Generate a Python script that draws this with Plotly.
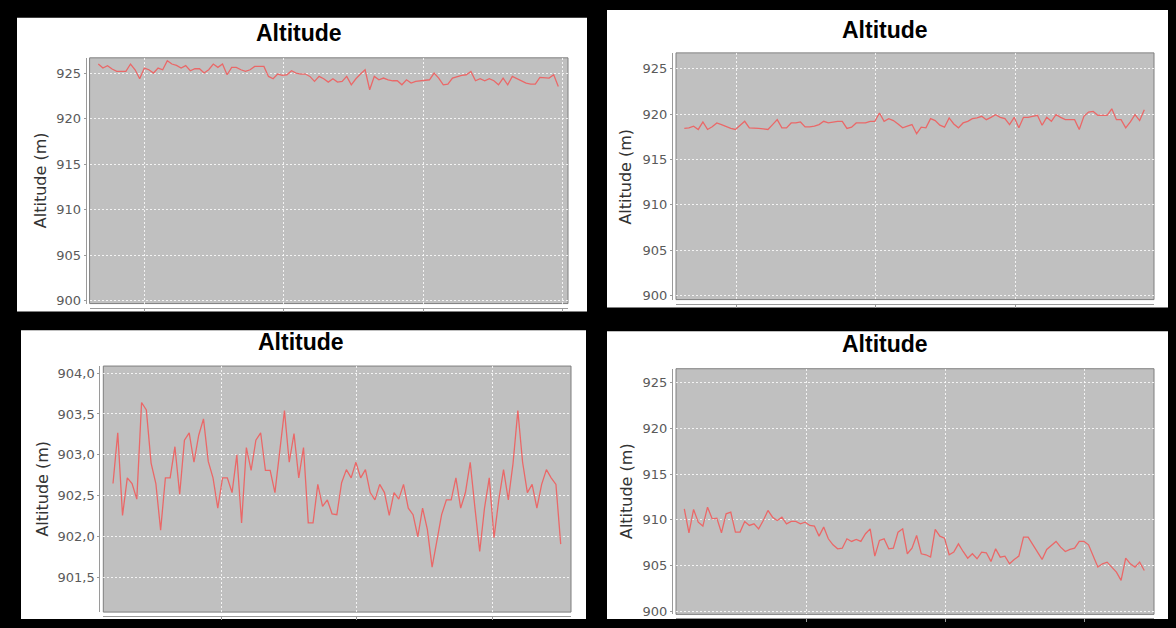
import plotly.graph_objects as go

W, H = 1176, 628

# ---------------- data (altitude samples, metres) ----------------
alt_p1 = [926.03, 925.59, 925.85, 925.48, 925.22, 925.22, 925.22, 926.03, 925.40, 924.41,
          925.59, 925.40, 925.04, 925.59, 925.40, 926.40, 926.03, 925.88, 925.59, 925.85,
          925.29, 925.51, 925.51, 925.04, 925.40, 926.03, 925.66, 926.03, 924.85, 925.66,
          925.66, 925.40, 925.22, 925.40, 925.77, 925.77, 925.77, 924.67, 924.41, 924.93,
          924.78, 924.85, 925.29, 925.04, 924.93, 924.93, 924.67, 924.12, 924.67, 924.41,
          924.04, 924.41, 924.04, 924.12, 924.67, 923.75, 924.41, 924.93, 925.40, 923.20,
          924.67, 924.30, 924.49, 924.30, 924.19, 924.19, 923.75, 924.30, 923.93, 924.12,
          924.19, 924.30, 924.30, 925.04, 924.49, 923.75, 923.82, 924.49, 924.67, 924.78,
          924.85, 925.22, 924.19, 924.41, 924.19, 924.41, 924.19, 923.75, 924.49, 923.75,
          924.67, 924.41, 924.12, 923.93, 923.82, 923.82, 924.56, 924.56, 924.49, 924.85,
          923.57]

alt_p2 = [918.41, 918.48, 918.66, 918.30, 919.13, 918.30, 918.59, 919.02, 918.84, 918.59,
          918.41, 918.30, 918.73, 919.20, 918.48, 918.48, 918.41, 918.37, 918.30, 918.84,
          919.38, 918.48, 918.48, 919.02, 919.02, 919.13, 918.59, 918.59, 918.66, 918.84,
          919.20, 919.02, 919.13, 919.20, 919.20, 918.41, 918.55, 919.02, 919.02, 919.02,
          919.20, 919.20, 920.11, 919.20, 919.49, 919.28, 918.91, 918.48, 918.66, 918.84,
          917.83, 918.55, 918.48, 919.49, 919.28, 918.77, 918.55, 919.57, 918.91, 918.48,
          919.02, 919.20, 919.49, 919.57, 919.75, 919.38, 919.64, 919.93, 919.64, 919.49,
          918.84, 919.64, 918.48, 919.64, 919.64, 919.75, 919.86, 918.77, 919.64, 919.20,
          919.93, 919.64, 919.38, 919.38, 919.38, 918.30, 919.75, 920.22, 920.29, 919.86,
          919.86, 919.86, 920.58, 919.38, 919.38, 918.48, 919.13, 919.93, 919.28, 920.47]

alt_p3 = [902.65, 903.27, 902.26, 902.72, 902.65, 902.46, 903.64, 903.55, 902.90, 902.65,
          902.08, 902.72, 902.72, 903.10, 902.52, 903.18, 903.27, 902.91, 903.24, 903.44,
          902.92, 902.72, 902.35, 902.72, 902.72, 902.54, 903.00, 902.17, 903.09, 902.81,
          903.18, 903.27, 902.81, 902.81, 902.54, 903.08, 903.54, 902.91, 903.26, 902.72,
          903.09, 902.17, 902.17, 902.64, 902.37, 902.45, 902.28, 902.27, 902.66, 902.82,
          902.72, 902.91, 902.72, 902.82, 902.54, 902.45, 902.64, 902.54, 902.26, 902.54,
          902.46, 902.64, 902.35, 902.27, 902.00, 902.35, 902.09, 901.63, 901.93, 902.27,
          902.45, 902.45, 902.72, 902.35, 902.54, 902.91, 902.35, 901.82, 902.35, 902.72,
          901.99, 902.45, 902.82, 902.45, 902.90, 903.54, 902.91, 902.54, 902.64, 902.35,
          902.64, 902.82, 902.72, 902.64, 901.91]

alt_p4 = [911.20, 908.58, 911.13, 909.74, 909.31, 911.39, 910.11, 910.18, 908.58, 910.66,
          910.84, 908.65, 908.65, 909.82, 909.38, 909.56, 909.01, 909.93, 911.02, 910.29,
          909.93, 910.29, 909.56, 909.82, 909.82, 909.56, 909.74, 909.38, 909.31, 908.21,
          909.20, 907.92, 907.26, 906.82, 906.89, 907.92, 907.63, 907.85, 907.63, 908.47,
          909.01, 906.02, 907.74, 907.92, 906.82, 906.89, 908.65, 909.01, 906.28, 906.89,
          908.28, 906.28, 906.17, 905.91, 908.94, 908.21, 907.99, 906.17, 906.46, 907.37,
          906.53, 905.80, 906.28, 905.73, 906.46, 906.39, 905.44, 906.82, 905.91, 906.02,
          905.18, 905.66, 906.02, 908.10, 908.10, 907.26, 906.53, 905.66, 906.75, 907.19,
          907.63, 907.01, 906.53, 906.75, 906.89, 907.63, 907.63, 907.26, 906.09, 904.82,
          905.18, 905.36, 904.82, 904.27, 903.36, 905.80, 905.18, 904.82, 905.36, 904.45]

ticks_m = [900, 905, 910, 915, 920, 925]
ticktext_m = ["900", "905", "910", "915", "920", "925"]
ticks_p3 = [901.5, 902.0, 902.5, 903.0, 903.5, 904.0]
ticktext_p3 = ["901,5", "902,0", "902,5", "903,0", "903,5", "904,0"]

chart_title = "Altitude"
y_label = "Altitude (m)"

# ---------------- layout geometry (pixels in the 1176x628 picture) ----------------
panels = [
    dict(data=alt_p1, tv=ticks_m, tt=ticktext_m, card=(17, 18, 587, 314),
         plot=(89.6, 58.3, 568, 306), yr=(899.71, 926.71), first=98.3, last=558.3,
         grid0=144, gstep=139.5, title=(299, 33), ylab=(40.6, 182)),
    dict(data=alt_p2, tv=ticks_m, tt=ticktext_m, card=(607, 10, 1168, 310),
         plot=(676, 53.3, 1154, 302), yr=(899.53, 926.75), first=684.3, last=1144.3,
         grid0=736, gstep=139.5, title=(885, 30), ylab=(626, 178)),
    dict(data=alt_p3, tv=ticks_p3, tt=ticktext_p3, card=(21, 333, 586, 624),
         plot=(103.3, 369, 571, 617), yr=(901.08, 904.085), first=113, last=560.7,
         grid0=221, gstep=135.5, title=(301, 345), ylab=(42.5, 493)),
    dict(data=alt_p4, tv=ticks_m, tt=ticktext_m, card=(607, 334, 1168, 624),
         plot=(676, 371.7, 1154, 619.3), yr=(899.64, 926.55), first=684.3, last=1144.3,
         grid0=806, gstep=139.2, title=(885, 347), ylab=(626, 495)),
]

LINE_COLOR = "#EA6868"
GRID_COLOR = "rgba(255,255,255,0.8)"
GRID_DASH = "2px,2px"
AXIS_COLOR = "#9a9a9a"

fig = go.Figure()
shapes = []
annotations = []
layout_axes = {}

for k, p in enumerate(panels, start=1):
    L, T, R, B = p["plot"]
    n = len(p["data"])
    idx = list(range(n))
    per = (p["last"] - p["first"]) / (n - 1)
    xr = [-(p["first"] - L) / per, (n - 1) + (R - p["last"]) / per]
    tick0 = (p["grid0"] - p["first"]) / per
    dtick = p["gstep"] / per
    xs = "" if k == 1 else str(k)

    fig.add_trace(go.Scatter(
        x=idx, y=p["data"], mode="lines",
        line=dict(color=LINE_COLOR, width=1.3),
        xaxis="x" + xs, yaxis="y" + xs, showlegend=False, hoverinfo="skip"))

    layout_axes["xaxis" + xs] = dict(
        domain=[L / W, R / W], range=xr, anchor="free", position=1 - (B + 4) / H,
        showline=True, linecolor=AXIS_COLOR, linewidth=1,
        ticks="outside", ticklen=3, tickcolor=AXIS_COLOR,
        tickmode="linear", tick0=tick0, dtick=dtick, showticklabels=False,
        showgrid=True, gridcolor=GRID_COLOR, gridwidth=1, griddash=GRID_DASH,
        zeroline=False, fixedrange=True)
    layout_axes["yaxis" + xs] = dict(
        domain=[1 - B / H, 1 - T / H], range=list(p["yr"]), anchor="free",
        position=(L - 4) / W,
        showline=True, linecolor=AXIS_COLOR, linewidth=1,
        ticks="outside", ticklen=2, tickcolor=AXIS_COLOR,
        tickvals=p["tv"], ticktext=p["tt"],
        tickfont=dict(family="DejaVu Sans", size=13, color="#5a5a5a"),
        showgrid=True, gridcolor=GRID_COLOR, gridwidth=1, griddash=GRID_DASH,
        zeroline=False, fixedrange=True)

    cx0, cy0, cx1, cy1 = p["card"]
    shapes.append(dict(type="rect", xref="paper", yref="paper", layer="below",
                       x0=cx0 / W, x1=cx1 / W, y0=1 - cy1 / H, y1=1 - cy0 / H,
                       fillcolor="white", line=dict(width=0)))
    shapes.append(dict(type="rect", xref="x" + xs + " domain", yref="y" + xs + " domain",
                       layer="below", x0=0, x1=1, y0=0, y1=1,
                       fillcolor="#C0C0C0", line=dict(color="#7f7f7f", width=1)))

    tx, ty = p["title"]
    annotations.append(dict(text=chart_title, xref="paper", yref="paper",
                            x=tx / W, y=1 - ty / H, xanchor="center", yanchor="middle",
                            showarrow=False,
                            font=dict(family="Liberation Sans", size=23, color="black",
                                      weight="bold")))
    lx, ly = p["ylab"]
    annotations.append(dict(text=y_label, xref="paper", yref="paper",
                            x=lx / W, y=1 - ly / H, xanchor="center", yanchor="middle",
                            textangle=-90, showarrow=False,
                            font=dict(family="DejaVu Sans", size=16, color="#333333")))

fig.update_layout(
    width=W, height=H, autosize=False,
    margin=dict(l=0, r=0, t=0, b=0, pad=0),
    paper_bgcolor="black", plot_bgcolor="#C0C0C0",
    separators=",.",
    shapes=shapes, annotations=annotations,
    **layout_axes)

fig.write_html("out.html", config={"displayModeBar": False},
               post_script="document.body.style.margin='0';document.body.style.overflow='hidden';")
